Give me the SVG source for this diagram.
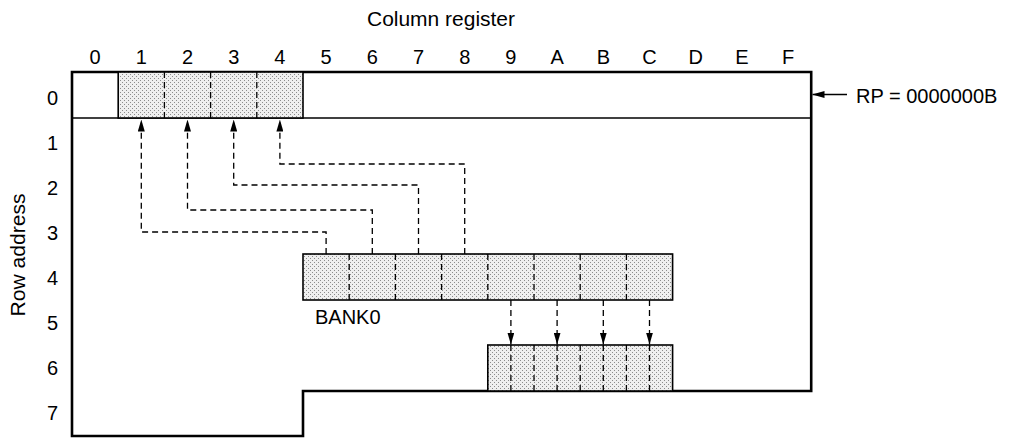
<svg xmlns="http://www.w3.org/2000/svg" width="1009" height="438" viewBox="0 0 1009 438">
  <style>
    .t { font-family: "Liberation Sans", Arial, sans-serif; font-size: 20px; fill: #000; }
    .mid { text-anchor: middle; }
    .frame { fill: #fff; stroke: #000; stroke-width: 2.6; stroke-linejoin: miter; }
    .thin { stroke: #000; stroke-width: 1.4; fill: none; }
    .cell { fill: url(#dots); stroke: #000; stroke-width: 1.6; }
    .div { stroke: #000; stroke-width: 1.3; stroke-dasharray: 6 4; fill: none; }
    .conn { stroke: #000; stroke-width: 1.3; stroke-dasharray: 6 4; fill: none; }
  </style>
  <defs>
    <pattern id="dots" width="4" height="4" patternUnits="userSpaceOnUse">
      <rect width="4" height="4" fill="#efefef"/>
      <rect x="0" y="0" width="1" height="1" fill="#8c8c8c"/>
      <rect x="2" y="2" width="1" height="1" fill="#8c8c8c"/>
    </pattern>
    <marker id="ah" viewBox="0 0 12 7" refX="12" refY="3.5" markerWidth="12" markerHeight="7" markerUnits="userSpaceOnUse" orient="auto">
      <path d="M0,0 L12,3.5 L0,7 z" fill="#000"/>
    </marker>
  </defs>
  <rect width="1009" height="438" fill="#fff"/>

  <!-- titles -->
  <text class="t" x="367" y="26" font-size="19" textLength="148" lengthAdjust="spacingAndGlyphs">Column register</text>
  <text class="t mid" transform="translate(25,255) rotate(-90)" textLength="123" lengthAdjust="spacingAndGlyphs">Row address</text>

  <!-- column numbers -->
  <g id="col-labels" class="t mid">
    <text x="95.1" y="64">0</text>
    <text x="141.3" y="64">1</text>
    <text x="187.5" y="64">2</text>
    <text x="233.7" y="64">3</text>
    <text x="279.9" y="64">4</text>
    <text x="326.1" y="64">5</text>
    <text x="372.3" y="64">6</text>
    <text x="418.5" y="64">7</text>
    <text x="464.7" y="64">8</text>
    <text x="510.9" y="64">9</text>
    <text x="557.1" y="64">A</text>
    <text x="603.3" y="64">B</text>
    <text x="649.5" y="64">C</text>
    <text x="695.7" y="64">D</text>
    <text x="741.9" y="64">E</text>
    <text x="788.1" y="64">F</text>
  </g>

  <!-- row numbers -->
  <g id="row-labels" class="t mid">
    <text x="52.5" y="105.3">0</text>
    <text x="52.5" y="150.3">1</text>
    <text x="52.5" y="195.3">2</text>
    <text x="52.5" y="240.3">3</text>
    <text x="52.5" y="285.3">4</text>
    <text x="52.5" y="330.3">5</text>
    <text x="52.5" y="375.3">6</text>
    <text x="52.5" y="420.3">7</text>
  </g>

  <!-- memory frame -->
  <g id="frame">
    <path class="frame" d="M72,72 H811.2 V391 H303 V436 H72 Z"/>
    <line class="thin" x1="72" y1="118" x2="811.2" y2="118"/>
  </g>

  <!-- row 0 register cells (cols 1-4) -->
  <g id="reg-row0">
    <rect class="cell" x="118.2" y="72" width="184.8" height="46"/>
    <path class="div" d="M164.4,72 V118 M210.6,72 V118 M256.8,72 V118"/>
  </g>

  <!-- BANK0 row 4 cells (cols 5-C) -->
  <g id="bank0-row4">
    <rect class="cell" x="303" y="254" width="369.6" height="46"/>
    <path class="div" d="M349.2,254 V300 M395.4,254 V300 M441.6,254 V300 M487.8,254 V300 M534,254 V300 M580.2,254 V300 M626.4,254 V300"/>
    <text class="t" x="315" y="324">BANK0</text>
  </g>

  <!-- row 6 cells (cols 9-C) -->
  <g id="bank0-row6">
    <rect class="cell" x="487.8" y="345" width="184.8" height="46"/>
    <path class="div" d="M534,345 V391 M580.2,345 V391 M626.4,345 V391"/>
    <path class="div" d="M510.9,345 V391 M557.1,345 V391 M603.3,345 V391 M649.5,345 V391"/>
  </g>

  <!-- RP label -->
  <g id="rp">
    <line x1="847" y1="94.5" x2="812.5" y2="94.5" stroke="#000" stroke-width="1.3" marker-end="url(#ah)"/>
    <text class="t" x="856" y="102.7" font-size="20.5">RP = 0000000B</text>
  </g>

  <!-- connectors -->
  <g id="connectors">
    <path class="conn" d="M326.1,254 V232 H141.3 V119.5" marker-end="url(#ah)"/>
    <path class="conn" d="M372.3,254 V210 H187.5 V119.5" marker-end="url(#ah)"/>
    <path class="conn" d="M418.5,254 V185 H233.7 V119.5" marker-end="url(#ah)"/>
    <path class="conn" d="M464.7,254 V164 H279.9 V119.5" marker-end="url(#ah)"/>
    <path class="conn" d="M510.9,300 V344.5" marker-end="url(#ah)"/>
    <path class="conn" d="M557.1,300 V344.5" marker-end="url(#ah)"/>
    <path class="conn" d="M603.3,300 V344.5" marker-end="url(#ah)"/>
    <path class="conn" d="M649.5,300 V344.5" marker-end="url(#ah)"/>
  </g>
</svg>
